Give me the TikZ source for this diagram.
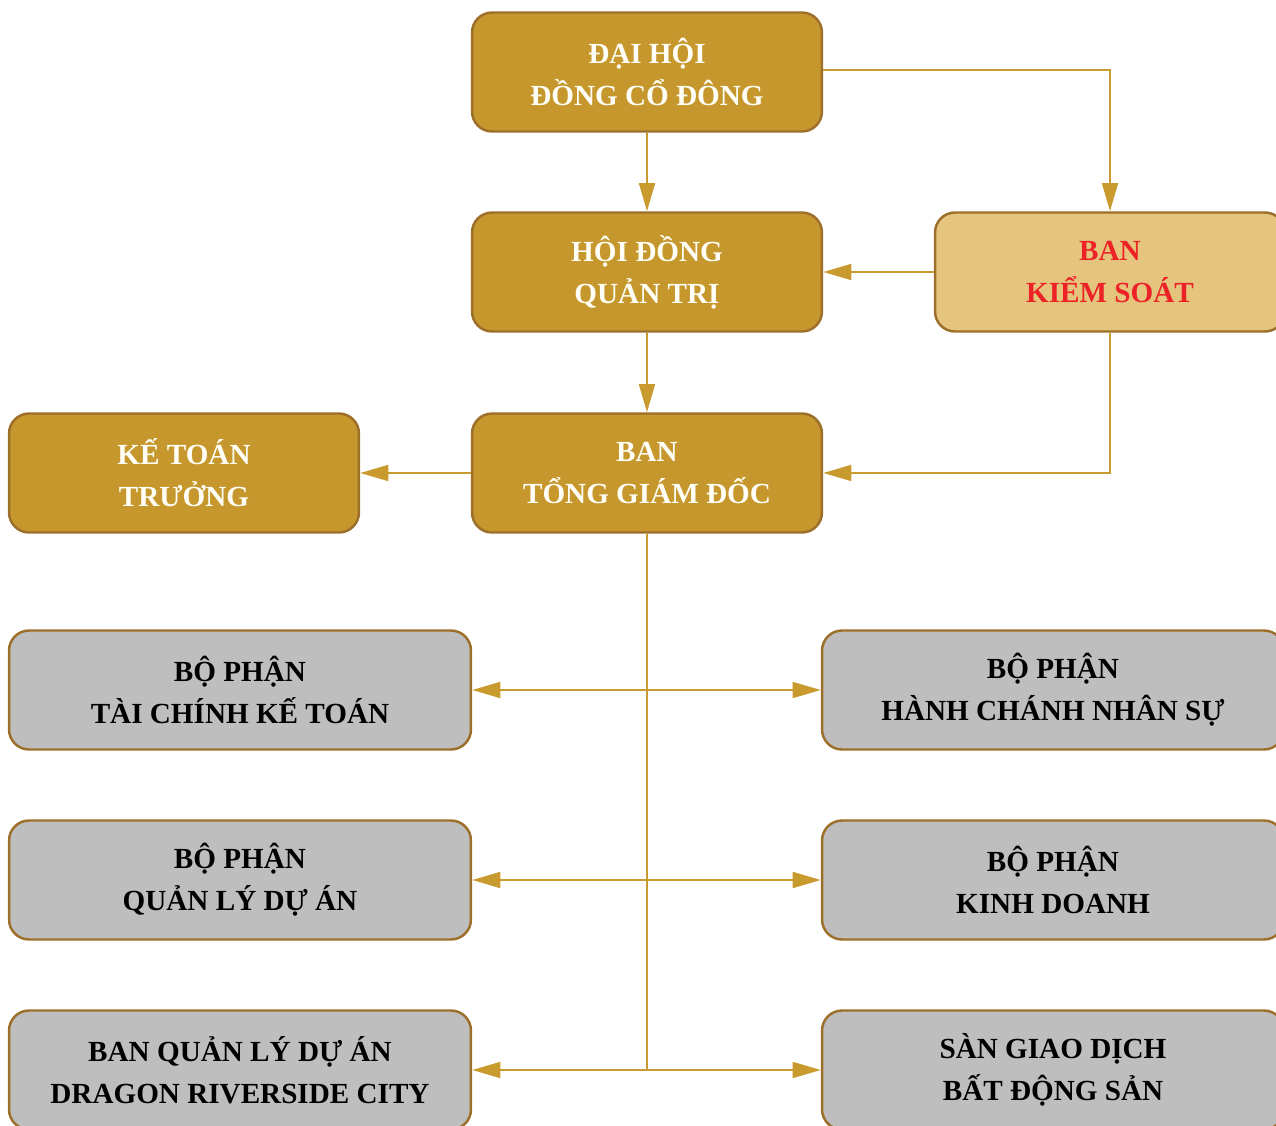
\documentclass[tikz,border=0pt]{standalone}
\usepackage{fontspec}
\setmainfont{Liberation Serif}
\usepackage{tikz}
\usetikzlibrary{positioning,arrows.meta}
\definecolor{org_gold}{HTML}{C6972C}
\definecolor{org_edge}{HTML}{9C6F2A}
\definecolor{org_light}{HTML}{E5C47E}
\definecolor{org_line}{HTML}{C99A2E}
\definecolor{org_red}{HTML}{EC2227}
\definecolor{org_gray}{HTML}{BEBEBE}
\tikzset{
  unit/.style = {rectangle, rounded corners=0.4cm, draw=org_edge, line width=1.4pt, align=center,
    font=\fontsize{16.6}{24}\selectfont\bfseries, inner sep=0pt},
  board/.style = {unit, fill=org_gold, text=white!97!yellow, minimum width=7cm, minimum height=2.38cm},
  audit/.style = {unit, fill=org_light, text=org_red, minimum width=7cm, minimum height=2.38cm},
  dept/.style = {unit, fill=org_gray, text=black, minimum width=9.24cm, minimum height=2.38cm},
  link/.style = {draw=org_line, line width=1.25pt, -{Triangle[length=16pt,width=9pt]}},
  twoway/.style = {link, {Triangle[length=16pt,width=9pt]}-{Triangle[length=16pt,width=9pt]}}
}
\begin{document}
\begin{tikzpicture}[x=0.02cm, y=-0.02cm]
\useasboundingbox (0,0) rectangle (1276,1126);
\node (DHCD) [board] at (647,72) {ĐẠI HỘI\\ĐỒNG CỔ ĐÔNG};
\node (HDQT) [board] at (647,272) {HỘI ĐỒNG\\QUẢN TRỊ};
\node (BKS) [audit] at (1110,272) {BAN\\KIỂM SOÁT};
\node (TGD) [board] at (647,473) {BAN\\TỔNG GIÁM ĐỐC};
\node (KTT) [board] at (184,473) {KẾ TOÁN\\TRƯỞNG};
% departments
\node (TCKT) [dept] at (240,690) {BỘ PHẬN\\TÀI CHÍNH KẾ TOÁN};
\node (HCNS) [dept] at (1053,690) {BỘ PHẬN\\HÀNH CHÁNH NHÂN SỰ};
\node (QLDA) [dept] at (240,880) {BỘ PHẬN\\QUẢN LÝ DỰ ÁN};
\node (KD) [dept] at (1053,880) {BỘ PHẬN\\KINH DOANH};
\node (BQL) [dept] at (240,1070) {BAN QUẢN LÝ DỰ ÁN\\DRAGON RIVERSIDE CITY};
\node (SGD) [dept] at (1053,1070) {SÀN GIAO DỊCH\\BẤT ĐỘNG SẢN};
\coordinate (Trunk) at (647,1070);
\path [link] (DHCD) -- (HDQT);
\path [link] ([yshift=0.04cm]DHCD.east) -| (BKS.north);
\path [link] (BKS.west) -- (HDQT.east);
\path [link] (HDQT) -- (TGD);
\path [link] (BKS.south) |- (TGD.east);
\path [link] (TGD.west) -- (KTT.east);
\draw [draw=org_line, line width=1.25pt] (TGD.south) -- (Trunk);
\path [twoway] (TCKT.east) -- (HCNS.west);
\path [twoway] (QLDA.east) -- (KD.west);
\path [twoway] (BQL.east) -- (SGD.west);
\end{tikzpicture}
\end{document}
